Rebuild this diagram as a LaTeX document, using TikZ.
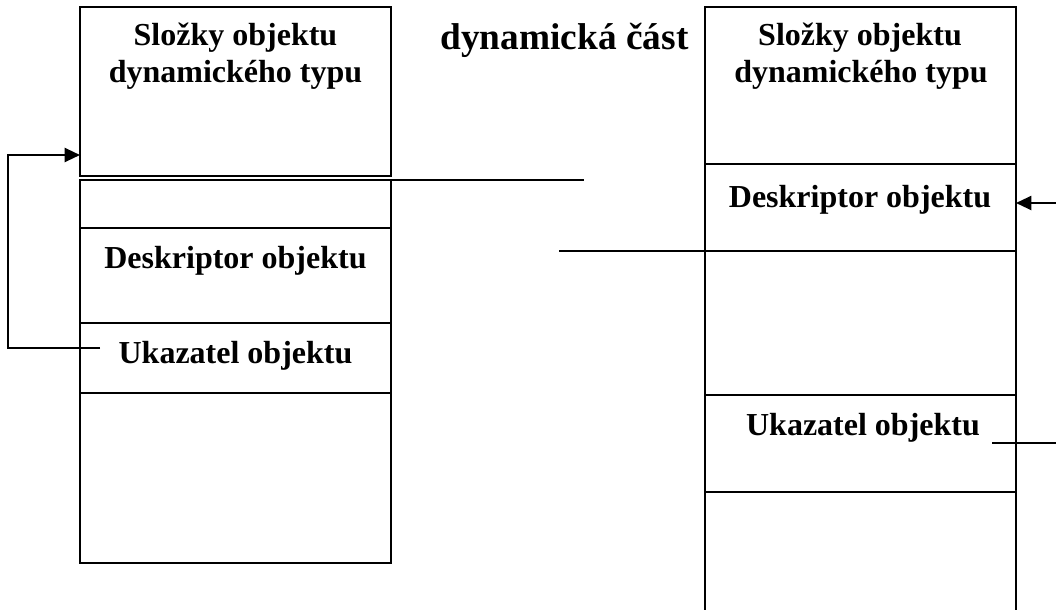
\documentclass[tikz,border=0pt]{standalone}
\usepackage{fontspec}
\setmainfont{Liberation Serif}
\usetikzlibrary{arrows.meta,fit}
\begin{document}
\begin{tikzpicture}[x=0.75pt,y=-0.75pt,
  cell/.style={draw,line width=2pt,inner sep=0pt,outer sep=0pt},
  hollow/.style={inner sep=0pt,outer sep=0pt},
  lbl/.style={font=\bfseries\fontsize{24}{28}\selectfont,anchor=base,inner sep=0pt},
  heading/.style={font=\bfseries\fontsize{28}{32}\selectfont,anchor=base,inner sep=0pt},
  wire/.style={line width=1.6pt},
  ptr/.style={wire,-{Triangle[length=11.5pt,width=10.5pt]}}]
\useasboundingbox (0,0) rectangle (1056,610);

% left object: memory cells
\node[cell,line width=2.2pt,fit={(80,7) (391,176)}] (L1) {};
\node[cell,fit={(80,180) (391,228)}] (L2) {};
\node[cell,fit={(80,228) (391,323)}] (L3) {};
\node[cell,fit={(80,323) (391,393)}] (L4) {};
\node[cell,fit={(80,393) (391,563)}] (L5) {};

\node[lbl] (l1a) at (235.5,46) {Složky objektu};
\node[lbl] (l1b) at (235.5,83) {dynamického typu};
\node[lbl] (l3) at (235.5,268) {Deskriptor objektu};
\node[lbl] (l4) at (235.5,363) {Ukazatel objektu};

% heading
\node[heading] (head) at (564.5,50) {dynamická část};

% right object: memory cells (open at the bottom)
\node[cell,fit={(705,7) (1016,164)}] (R1) {};
\node[cell,fit={(705,164) (1016,251)}] (R2) {};
\node[cell,fit={(705,251) (1016,395)}] (R3) {};
\node[cell,fit={(705,395) (1016,492)}] (R4) {};
\node[hollow,fit={(705,492) (1016,610)}] (R5) {};
\draw[line width=2pt] (R5.north west) -- (R5.south west);
\draw[line width=2pt] (R5.north east) -- (R5.south east);

\node[lbl] (r1a) at (860,46) {Složky objektu};
\node[lbl] (r1b) at (861,83) {dynamického typu};
\node[lbl] (r2) at (860,207) {Deskriptor objektu};
\node[lbl] (r4) at (863,435) {Ukazatel objektu};

% pointer loop on the left
\coordinate (lsrc) at (100,348);
\coordinate (loopx) at (8,155);
\draw[ptr] (lsrc) -| (loopx) -- (loopx -| L1.west);

% lines towards the dynamic part
\coordinate (m1) at (584,180);
\draw[wire] (L2.north east) -- (m1);
\coordinate (m2) at (559,251);
\draw[wire] (m2) -- (R3.north west);

% pointers on the right edge
\coordinate (rin) at (1056,203);
\draw[ptr] (rin) -- (rin -| R2.east);
\coordinate (rsrc) at (992,443);
\coordinate (rout) at (1056,443);
\draw[wire] (rsrc) -- (rout);
\end{tikzpicture}
\end{document}
